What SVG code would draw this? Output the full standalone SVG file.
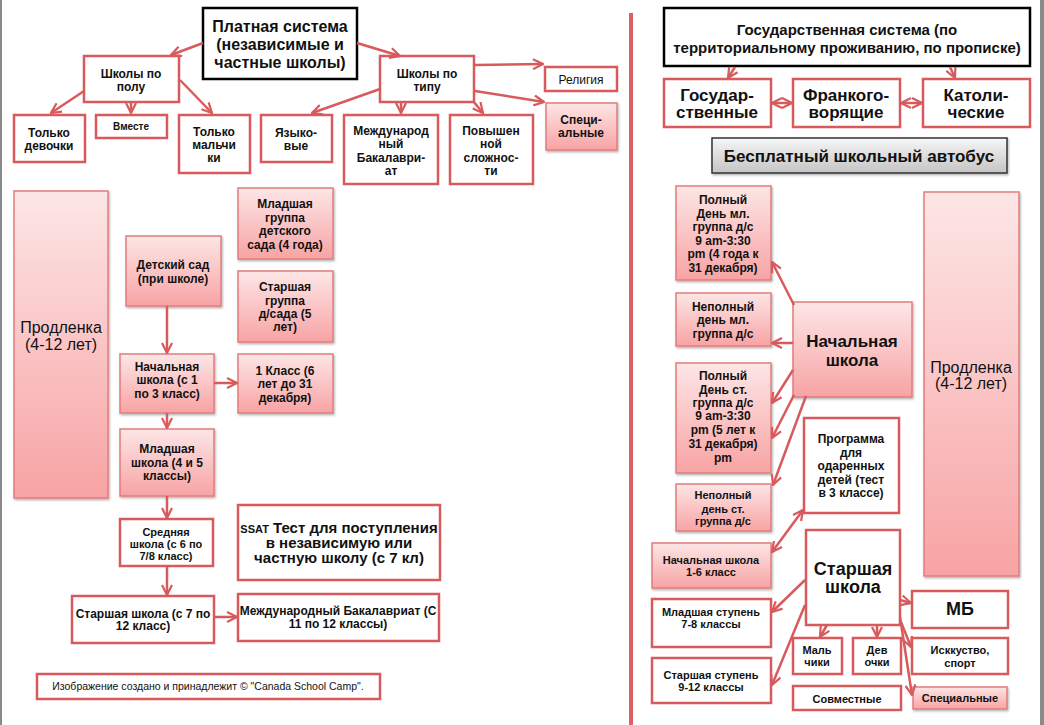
<svg xmlns="http://www.w3.org/2000/svg" width="1044" height="725" viewBox="0 0 1044 725">
<defs>
<linearGradient id="pg" x1="0" y1="0" x2="0" y2="1"><stop offset="0" stop-color="#fde6e6"/><stop offset="1" stop-color="#f8a3a4"/></linearGradient>
<linearGradient id="gg" x1="0" y1="0" x2="0" y2="1"><stop offset="0" stop-color="#f7f7f7"/><stop offset="1" stop-color="#c4c4c4"/></linearGradient>
<filter id="sh" x="-10%" y="-10%" width="130%" height="130%"><feDropShadow dx="1" dy="1.5" stdDeviation="1" flood-color="#000" flood-opacity="0.3"/></filter>
<marker id="ar" viewBox="0 0 12 12" refX="11" refY="6" markerWidth="12" markerHeight="12" markerUnits="userSpaceOnUse" orient="auto-start-reverse"><path d="M1,1 L11,6 L1,11" fill="none" stroke="#d95a5c" stroke-width="2.2"/></marker>
</defs>
<style>
.r{fill:#fff;stroke:#d95a5c;stroke-width:2.5}
.p{fill:url(#pg);stroke:#e27c7d;stroke-width:1.5;filter:url(#sh)}
.k{fill:#fff;stroke:#000;stroke-width:2.5}
.g{fill:url(#gg);stroke:#333;stroke-width:1.5;filter:url(#sh)}
text{font-family:"Liberation Sans",Arial,sans-serif;font-weight:bold;text-anchor:middle;fill:#111}
.n{font-weight:normal}
.s10{font-size:10px}.s105{font-size:10.5px}.s11{font-size:11px}.s12{font-size:12px}.s15{font-size:15px}.s16{font-size:16px}.s17{font-size:17px}.s18{font-size:18px}
#conn line{stroke:#d95a5c;stroke-width:2.5;marker-end:url(#ar)}
#conn line.d{marker-start:url(#ar)}
</style>
<rect x="0" y="0" width="1044" height="725" fill="#fff"/>
<rect x="0" y="0" width="2" height="725" fill="#8a8a8a"/>
<rect x="1040" y="0" width="4" height="725" fill="#8a8a8a"/>
<rect x="629" y="13" width="4" height="712" fill="#dc6061"/>

<g id="paid"><rect class="k" x="203" y="8" width="154" height="71"/><text class="s16" x="280" y="32">Платная система</text><text class="s16" x="280" y="50">(независимые и</text><text class="s16" x="280" y="68">частные школы)</text></g>
<g id="bygender"><rect class="r" x="84" y="56" width="95" height="46"/><text class="s12" x="131" y="78">Школы по</text><text class="s12" x="131" y="91">полу</text></g>
<g id="girls"><rect class="r" x="14" y="115" width="71" height="47"/><text class="s12" x="49" y="137">Только</text><text class="s12" x="49" y="150">девочки</text></g>
<g id="together"><rect class="r" x="96" y="115" width="71" height="23"/><text class="s10" x="131" y="130">Вместе</text></g>
<g id="boys"><rect class="r" x="179" y="115" width="71" height="58"/><text class="s12" x="214" y="136">Только</text><text class="s12" x="214" y="149">мальчи</text><text class="s12" x="214" y="162">ки</text></g>
<g id="lang"><rect class="r" x="261" y="115" width="71" height="47"/><text class="s12" x="296" y="137">Языко-</text><text class="s12" x="296" y="150">вые</text></g>
<g id="ib"><rect class="r" x="344" y="115" width="94" height="69"/><text class="s12" x="391" y="135">Международ</text><text class="s12" x="391" y="148">ный</text><text class="s12" x="391" y="162">Бакалаври-</text><text class="s12" x="391" y="175">ат</text></g>
<g id="adv"><rect class="r" x="450" y="115" width="83" height="69"/><text class="s12" x="491" y="135">Повышен</text><text class="s12" x="491" y="148">ной</text><text class="s12" x="491" y="162">сложнос-</text><text class="s12" x="491" y="175">ти</text></g>
<g id="bytype"><rect class="r" x="380" y="56" width="94" height="46"/><text class="s12" x="427" y="78">Школы по</text><text class="s12" x="427" y="91">типу</text></g>
<g id="religion"><rect class="r" x="545" y="67" width="72" height="24"/><text class="s12 n" x="581" y="84">Религия</text></g>
<g id="special1"><rect class="p" x="546" y="103" width="71" height="47"/><text class="s12" x="581" y="124">Специ-</text><text class="s12" x="581" y="137">альные</text></g>

<g id="prodl1"><rect class="p" x="14" y="191" width="94" height="307"/><text class="s16 n" x="61" y="333">Продленка</text><text class="s16 n" x="61" y="350">(4-12 лет)</text></g>
<g id="jrkg"><rect class="p" x="238" y="188" width="95" height="71"/><text class="s12" x="285" y="208">Младшая</text><text class="s12" x="285" y="221.5">группа</text><text class="s12" x="285" y="235">детского</text><text class="s12" x="285" y="248.5">сада (4 года)</text></g>
<g id="kg"><rect class="p" x="126" y="236" width="95" height="70"/><text class="s12" x="173" y="269">Детский сад</text><text class="s12" x="173" y="283">(при школе)</text></g>
<g id="srkg"><rect class="p" x="238" y="271" width="95" height="71"/><text class="s12" x="285" y="291">Старшая</text><text class="s12" x="285" y="305">группа</text><text class="s12" x="285" y="318">д/сада (5</text><text class="s12" x="285" y="331">лет)</text></g>
<g id="prim1"><rect class="p" x="120" y="354" width="94" height="59"/><text class="s12" x="167" y="371">Начальная</text><text class="s12" x="167" y="384">школа (с 1</text><text class="s12" x="167" y="398">по 3 класс)</text></g>
<g id="grade1"><rect class="p" x="238" y="354" width="95" height="59"/><text class="s12" x="285" y="375">1 Класс (6</text><text class="s12" x="285" y="388">лет до  31</text><text class="s12" x="285" y="402">декабря)</text></g>
<g id="junior1"><rect class="p" x="120" y="429" width="94" height="67"/><text class="s12" x="167" y="453">Младшая</text><text class="s12" x="167" y="467">школа (4 и 5</text><text class="s12" x="167" y="480">классы)</text></g>
<g id="middle1"><rect class="r" x="120" y="519" width="93" height="47"/><text class="s11" x="166" y="536">Средняя</text><text class="s11" x="166" y="548">школа (с 6 по</text><text class="s11" x="166" y="560">7/8 класс)</text></g>
<g id="ssat"><rect class="r" x="238" y="505" width="202" height="75"/><text class="s15" x="339" y="533"><tspan class="s11">SSAT</tspan> Тест для поступления</text><text class="s15" x="339" y="548">в независимую или</text><text class="s15" x="339" y="563">частную школу (с 7 кл)</text></g>
<g id="senior1"><rect class="r" x="72" y="596" width="142" height="47"/><text class="s12" x="143" y="618">Старшая школа (с 7 по</text><text class="s12" x="143" y="630">12 класс)</text></g>
<g id="ib2"><rect class="r" x="238" y="594" width="201" height="47"/><text class="s12" x="338" y="615">Международный Бакалавриат (С</text><text class="s12" x="338" y="628">11 по 12 классы)</text></g>
<g id="copy"><rect class="r" x="37" y="674" width="343" height="25"/><text class="s105 n" x="208" y="690">Изображение создано и принадлежит © "Canada School Camp".</text></g>

<g id="state"><rect class="k" x="664" y="8" width="366" height="58"/><text class="s15" x="847" y="35">Государственная система (по</text><text class="s15" x="847" y="53">территориальному проживанию, по прописке)</text></g>
<g id="public"><rect class="r" x="664" y="79" width="107" height="48"/><text class="s17" x="717" y="101">Государ-</text><text class="s17" x="717" y="118">ственные</text></g>
<g id="franco"><rect class="r" x="793" y="79" width="107" height="48"/><text class="s17" x="846" y="101">Франкого-</text><text class="s17" x="846" y="118">ворящие</text></g>
<g id="catholic"><rect class="r" x="923" y="79" width="107" height="48"/><text class="s17" x="976" y="101">Католи-</text><text class="s17" x="976" y="118">ческие</text></g>
<g id="bus"><rect class="g" x="712" y="138" width="295" height="35"/><text class="s17" x="859" y="162">Бесплатный школьный автобус</text></g>

<g id="fulljr"><rect class="p" x="676" y="186" width="95" height="94"/><text class="s12" x="723" y="203.5">Полный</text><text class="s12" x="723" y="217.5">День мл.</text><text class="s12" x="723" y="231">группа д/с</text><text class="s12" x="723" y="244.5">9 am-3:30</text><text class="s12" x="723" y="258">pm (4 года к</text><text class="s12" x="723" y="271.5">31 декабря)</text></g>
<g id="partjr"><rect class="p" x="676" y="293" width="95" height="53"/><text class="s12" x="723" y="311">Неполный</text><text class="s12" x="723" y="324">день мл.</text><text class="s12" x="723" y="337.5">группа д/с</text></g>
<g id="prim2"><rect class="p" x="793" y="302" width="119" height="95"/><text class="s17" x="852" y="347">Начальная</text><text class="s17" x="852" y="366">школа</text></g>
<g id="fullsr"><rect class="p" x="676" y="363" width="95" height="110"/><text class="s12" x="723" y="379.5">Полный</text><text class="s12" x="723" y="393.5">День ст.</text><text class="s12" x="723" y="407">группа д/с</text><text class="s12" x="723" y="420">9 am-3:30</text><text class="s12" x="723" y="433.5">pm (5 лет к</text><text class="s12" x="723" y="447.5">31 декабря)</text><text class="s12" x="723" y="461.5">pm</text></g>
<g id="partsr"><rect class="p" x="676" y="484" width="95" height="47"/><text class="s11" x="723" y="499">Неполный</text><text class="s11" x="723" y="512.5">день ст.</text><text class="s11" x="723" y="525">группа д/с</text></g>
<g id="gifted"><rect class="r" x="804" y="418" width="95" height="95"/><text class="s12" x="851" y="443">Программа</text><text class="s12" x="851" y="457">для</text><text class="s12" x="851" y="470">одаренных</text><text class="s12" x="851" y="483.5">детей (тест</text><text class="s12" x="851" y="497">в 3 классе)</text></g>
<g id="prodl2"><rect class="p" x="924" y="192" width="95" height="384"/><text class="s16 n" x="971" y="373">Продленка</text><text class="s16 n" x="971" y="389">(4-12 лет)</text></g>
<g id="prim16"><rect class="p" x="652" y="543" width="119" height="45"/><text class="s11" x="711" y="564">Начальная школа</text><text class="s11" x="711" y="576">1-6 класс</text></g>
<g id="senior2"><rect class="r" x="806" y="530" width="94" height="95"/><text class="s18" x="853" y="575">Старшая</text><text class="s18" x="853" y="593">школа</text></g>
<g id="mb"><rect class="r" x="912" y="591" width="96" height="37"/><text class="s18" x="960" y="615">МБ</text></g>
<g id="jrstage"><rect class="r" x="652" y="599" width="119" height="48"/><text class="s11" x="711" y="616">Младшая ступень</text><text class="s11" x="711" y="628">7-8 классы</text></g>
<g id="boys2"><rect class="r" x="793" y="638" width="49" height="36"/><text class="s11" x="817" y="654">Маль</text><text class="s11" x="817" y="666">чики</text></g>
<g id="girls2"><rect class="r" x="853" y="638" width="48" height="36"/><text class="s11" x="877" y="654">Дев</text><text class="s11" x="877" y="666">очки</text></g>
<g id="arts"><rect class="r" x="912" y="638" width="96" height="36"/><text class="s11" x="960" y="654">Исккуство,</text><text class="s11" x="960" y="667">спорт</text></g>
<g id="srstage"><rect class="r" x="652" y="658" width="119" height="45"/><text class="s11" x="711" y="679">Старшая ступень</text><text class="s11" x="711" y="691">9-12 классы</text></g>
<g id="coed"><rect class="r" x="793" y="686" width="108" height="24"/><text class="s11" x="847" y="703">Совместные</text></g>
<g id="special2"><rect class="p" x="913" y="687" width="94" height="22"/><text class="s11" x="960" y="702">Специальные</text></g>

<g id="conn">
<line x1="203" y1="43" x2="171" y2="55"/>
<line x1="357" y1="43" x2="400" y2="56"/>
<line x1="84" y1="91" x2="51" y2="113"/>
<line x1="131" y1="102" x2="131" y2="113"/>
<line x1="180" y1="80" x2="212" y2="113"/>
<line x1="380" y1="89" x2="312" y2="113"/>
<line x1="401" y1="102" x2="401" y2="113"/>
<line x1="473" y1="101" x2="483" y2="113"/>
<line x1="475" y1="65" x2="543" y2="64"/>
<line x1="475" y1="91" x2="544" y2="102"/>
<line x1="167" y1="306" x2="167" y2="353"/>
<line x1="214" y1="383" x2="237" y2="383"/>
<line x1="167" y1="413" x2="167" y2="428"/>
<line x1="167" y1="496" x2="167" y2="518"/>
<line x1="167" y1="566" x2="167" y2="595"/>
<line x1="214" y1="617" x2="237" y2="617"/>
<line x1="735" y1="67" x2="728" y2="78"/>
<line x1="950" y1="67" x2="955" y2="78"/>
<line class="d" x1="772" y1="103" x2="792" y2="103"/>
<line class="d" x1="901" y1="103" x2="922" y2="103"/>
<line x1="794" y1="305" x2="772" y2="262"/>
<line x1="793" y1="343" x2="772" y2="343"/>
<line x1="793" y1="370" x2="772" y2="403"/>
<line x1="794" y1="395" x2="772" y2="438"/>
<line x1="806" y1="396" x2="773" y2="485"/>
<line class="d" x1="803" y1="510" x2="772" y2="552"/>
<line x1="805" y1="580" x2="772" y2="612"/>
<line x1="805" y1="605" x2="772" y2="685"/>
<line x1="827" y1="625" x2="820" y2="637"/>
<line x1="877" y1="625" x2="877" y2="637"/>
<line x1="900" y1="600" x2="911" y2="603"/>
<line x1="901" y1="622" x2="911" y2="647"/>
<line x1="900" y1="617" x2="912" y2="695"/>
</g>
</svg>
